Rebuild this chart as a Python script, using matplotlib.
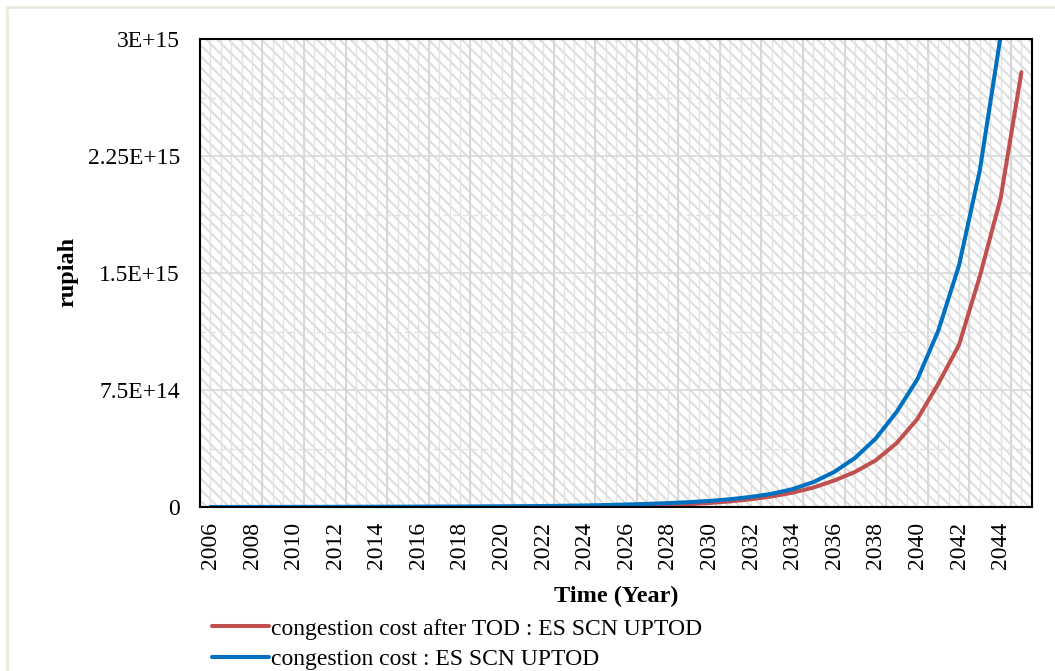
import numpy as np
import matplotlib
matplotlib.use("Agg")
import matplotlib.pyplot as plt
from matplotlib.patches import Rectangle
from matplotlib.lines import Line2D

plt.rcParams['font.family'] = ['Liberation Serif', 'DejaVu Serif']
plt.rcParams['hatch.linewidth'] = 1.5

# years on the category axis
years = list(range(2006, 2046))

# congestion cost after TOD (rupiah), 2006-2045
cost_after_tod = [
    0.0, 0.0, 0.0, 0.0, 0.0, 0.0, 0.0, 0.0, 0.0, 0.0,
    0.0, 0.0, 0.0, 0.0, 0.0005e15, 0.0008e15, 0.0012e15, 0.0018e15, 0.0025e15, 0.0035e15,
    0.005e15, 0.008e15, 0.012e15, 0.018e15, 0.026e15, 0.036e15, 0.05e15, 0.068e15, 0.092e15, 0.125e15,
    0.17e15, 0.225e15, 0.30e15, 0.41e15, 0.565e15, 0.79e15, 1.04e15, 1.48e15, 1.98e15, 2.79e15,
]

# congestion cost without TOD (rupiah), 2006-2044
cost_base = [
    0.0, 0.0002e15, 0.0004e15, 0.0006e15, 0.0008e15, 0.001e15, 0.0012e15, 0.0015e15, 0.0018e15, 0.0021e15,
    0.0025e15, 0.0029e15, 0.0033e15, 0.0038e15, 0.0044e15, 0.0052e15, 0.0065e15, 0.008e15, 0.0098e15, 0.0125e15,
    0.016e15, 0.02e15, 0.025e15, 0.031e15, 0.039e15, 0.05e15, 0.065e15, 0.085e15, 0.115e15, 0.16e15,
    0.225e15, 0.315e15, 0.44e15, 0.61e15, 0.82e15, 1.13e15, 1.55e15, 2.16e15, 3.02e15,
]

y_ticks = [0, 7.5e14, 1.5e15, 2.25e15, 3e15]
y_tick_labels = ["0", "7.5E+14", "1.5E+15", "2.25E+15", "3E+15"]

label_after = "congestion cost after TOD : ES SCN UPTOD"
label_base = "congestion cost : ES SCN UPTOD"

fig = plt.figure(figsize=(10.55, 6.71), dpi=100)
ax = fig.add_axes([0.1896, 0.2444, 0.7884, 0.6968])

# hatched plot-area background
bg = Rectangle((0, 0), 1, 1, transform=ax.transAxes, facecolor='white',
               edgecolor='#dedede', hatch='\\\\\\', linewidth=0, zorder=0)
ax.add_patch(bg)

n = len(years)
x_after = np.arange(len(cost_after_tod))
x_base = np.arange(len(cost_base))

# gridlines
for i in range(2 * n + 1):
    xv = -0.5 + i * 0.5
    ax.axvline(xv, color='#e3e3e3', lw=1.0, zorder=1)
for xv in np.arange(2.5, n, 2):
    ax.axvline(xv, color='#d6d6d6', lw=1.3, zorder=1)
for yv in y_ticks[1:-1]:
    ax.axhline(yv, color='#d9d9d9', lw=1.2, zorder=1)
for yv in np.arange(3.75e14, 3e15, 7.5e14):
    ax.axhline(yv, color='#e0e0e0', lw=1.0, ls=(0, (4, 3)), zorder=1)

ax.plot(x_after, cost_after_tod, color='#C0504D', lw=2.9, label=label_after,
        solid_capstyle='round', zorder=3)
ax.plot(x_base, cost_base, color='#0070C0', lw=2.9, label=label_base,
        solid_capstyle='round', zorder=4)

ax.set_xlim(-0.5, n - 0.5)
ax.set_ylim(0, 3e15)
ax.set_yticks(y_ticks)
ax.set_yticklabels(y_tick_labels)
ax.set_xticks(np.arange(0, n - 1, 2))
ax.set_xticklabels([str(y) for y in years[:-1:2]], rotation=90)
ax.tick_params(axis='both', length=0, labelsize=17)
ax.tick_params(axis='y', pad=14.5)
ax.tick_params(axis='x', pad=10.5)

for s in ax.spines.values():
    s.set_color('black')
    s.set_linewidth(1.5)
    s.set_zorder(5)

ax.set_xlabel("Time (Year)", fontsize=17.5, fontweight='bold', labelpad=12)
fig.text(68 / 1055, 1 - 272 / 671, "rupiah", rotation=90, fontsize=17.5,
         fontweight='bold', ha='center', va='center')

fig.legend(loc='upper left', bbox_to_anchor=(212 / 1055, 1 - 618 / 671),
           bbox_transform=fig.transFigure, frameon=False, fontsize=17,
           handlelength=2.4, handletextpad=0.08, labelspacing=0.38,
           borderpad=0, borderaxespad=0)

# outer chart frame
fig.add_artist(Line2D([7 / 1055, 1], [1 - 7 / 671, 1 - 7 / 671], color='#ebe8de', lw=2,
                      transform=fig.transFigure))
fig.add_artist(Line2D([7 / 1055, 7 / 1055], [0, 1 - 7 / 671], color='#ebe8de', lw=2,
                      transform=fig.transFigure))

fig.savefig("out.png", dpi=100)
